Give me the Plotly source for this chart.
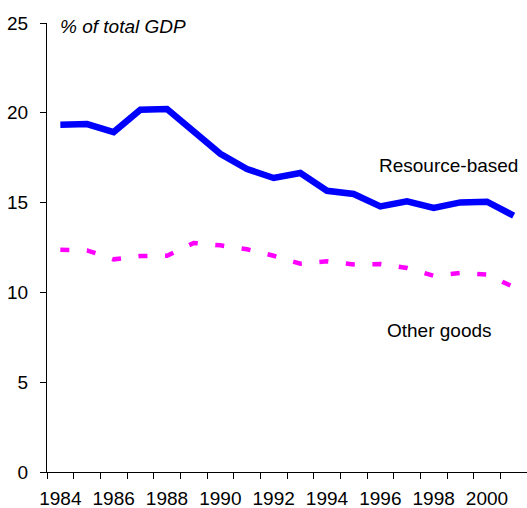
import plotly.graph_objects as go

years = list(range(1984, 2002))
resource_based = [19.34, 19.37, 18.93, 20.17, 20.21, 18.98, 17.72, 16.87, 16.37, 16.65,
                  15.66, 15.48, 14.79, 15.07, 14.70, 15.01, 15.05, 14.27]
other_goods = [12.38, 12.34, 11.84, 12.02, 12.04, 12.75, 12.62, 12.40, 12.04, 11.60,
               11.73, 11.56, 11.58, 11.36, 10.93, 11.08, 10.99, 10.30]
x_tick_labels = [str(y) for y in range(1984, 2001, 2)]
y_ticks = [0, 5, 10, 15, 20, 25]

FONT = "Liberation Sans, Arial, sans-serif"

fig = go.Figure()
fig.add_trace(go.Scatter(x=years, y=other_goods, mode="lines",
                         line=dict(color="#FF00FF", width=4.5, dash="9px,17.6px"),
                         showlegend=False))
fig.add_trace(go.Scatter(x=years, y=resource_based, mode="lines",
                         line=dict(color="#0000FF", width=6.5),
                         showlegend=False))

fig.add_annotation(x=1998.55, y=17.07, text="Resource-based", showarrow=False,
                   font=dict(family=FONT, size=19, color="#000000"))
fig.add_annotation(x=1998.2, y=7.88, text="Other goods", showarrow=False,
                   font=dict(family=FONT, size=19, color="#000000"))
fig.add_annotation(x=1983.9, y=24.8, text="<i>% of total GDP</i>", showarrow=False,
                   xanchor="left", font=dict(family=FONT, size=19, color="#000000"))

fig.update_layout(
    width=527, height=508,
    margin=dict(l=47, r=0, t=23, b=36),
    paper_bgcolor="white", plot_bgcolor="white",
    font=dict(family=FONT, size=19, color="#000000"),
)
fig.update_xaxes(
    range=[1983.5, 2001.5], automargin=False,
    tickmode="array", tickvals=[int(v) for v in x_tick_labels], ticktext=x_tick_labels,
    ticks="", showgrid=False, zeroline=False,
    showline=True, linecolor="#000000", linewidth=1,
    ticklabelstandoff=9,
    minor=dict(tick0=1983.5, dtick=1, ticks="outside", ticklen=6,
               tickcolor="#000000", tickwidth=1, showgrid=False),
    tickfont=dict(family=FONT, size=19, color="#000000"),
)
fig.update_yaxes(
    range=[0, 25], automargin=False, tickvals=y_ticks,
    ticks="outside", ticklen=6, tickcolor="#000000", tickwidth=1,
    showgrid=False, zeroline=False,
    showline=True, linecolor="#000000", linewidth=1,
    ticklabelstandoff=8,
    tickfont=dict(family=FONT, size=19, color="#000000"),
)

fig.write_html("out.html", config={"displayModeBar": False},
               post_script="document.body.style.margin='0';document.body.style.padding='0';")
